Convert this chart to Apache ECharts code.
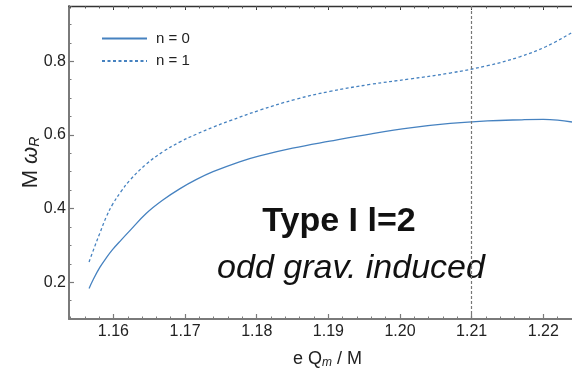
<!DOCTYPE html>
<html>
<head>
<meta charset="utf-8">
<script src="https://cdn.jsdelivr.net/npm/echarts@6/dist/echarts.min.js"></script>
<style>
  html, body { margin: 0; padding: 0; background: #fff; }
  #chart { width: 572px; height: 374px; }
</style>
</head>
<body>
<div id="chart"></div>
<script>
// Real part of the quasinormal frequency versus magnetic charge
const seriesNames = ['n = 0', 'n = 1'];

const xN0 = [1.1566, 1.1572, 1.1581, 1.1590, 1.1599, 1.1611, 1.1623, 1.1646, 1.1669, 1.1693, 1.1716, 1.1739, 1.1776, 1.1804, 1.1850, 1.1902, 1.1960, 1.2014, 1.2070, 1.2122, 1.2170, 1.2200, 1.2220, 1.2240];
const yN0 = [0.183, 0.208, 0.240, 0.266, 0.289, 0.315, 0.340, 0.387, 0.423, 0.454, 0.479, 0.500, 0.527, 0.543, 0.564, 0.583, 0.603, 0.619, 0.631, 0.638, 0.641, 0.642, 0.640, 0.635];

const xN1 = [1.1566, 1.1572, 1.1581, 1.1590, 1.1599, 1.1611, 1.1623, 1.1646, 1.1669, 1.1693, 1.1716, 1.1739, 1.1762, 1.1804, 1.1855, 1.1902, 1.1958, 1.2014, 1.2070, 1.2122, 1.2167, 1.2204, 1.2240];
const yN1 = [0.255, 0.287, 0.333, 0.377, 0.412, 0.447, 0.477, 0.521, 0.554, 0.581, 0.602, 0.621, 0.638, 0.667, 0.697, 0.718, 0.737, 0.752, 0.768, 0.788, 0.812, 0.840, 0.878];

// threshold marked by the vertical dashed line
const xThreshold = 1.2122;

// tick labels
const xTicks = [1.16, 1.17, 1.18, 1.19, 1.20, 1.21, 1.22];
const yTicks = [0.2, 0.4, 0.6, 0.8];

const xRange = [1.1538, 1.2240];
const yRange = [0.1, 0.95];

// minor tick positions (every 0.002 on x, every 0.05 on y)
const xMinor = [];
for (let k = 577; k <= 612; k++) xMinor.push(+(k * 0.002).toFixed(3));
const yMinor = [];
for (let k = 2; k <= 19; k++) yMinor.push(+(k * 0.05).toFixed(2));

const blue = '#4682c0';
const frameGray = '#7a7a7a';
const font = '"Liberation Sans", Arial, sans-serif';

const chart = echarts.init(document.getElementById('chart'), null, { renderer: 'canvas' });

const baseX = { type: 'value', min: xRange[0], max: xRange[1], splitLine: { show: false } };
const baseY = { type: 'value', min: yRange[0], max: yRange[1], splitLine: { show: false } };

chart.setOption({
  animation: false,
  backgroundColor: '#fff',
  grid: { left: 69, right: 0, top: 6, bottom: 47.5, containLabel: false },
  legend: {
    orient: 'vertical',
    left: 96, top: 26,
    itemWidth: 45, itemHeight: 14, itemGap: 7.5,
    data: seriesNames,
    itemStyle: { opacity: 0 },
    textStyle: { fontFamily: font, fontSize: 15, color: '#222', padding: [0, 0, 0, 4] }
  },
  xAxis: [
    Object.assign({}, baseX, {
      position: 'bottom',
      name: '{a|e Q}{s|m}{a| / M}',
      nameLocation: 'middle', nameGap: 30, nameMoveOverlap: false,
      nameTextStyle: {
        padding: [0, 0, 0, 14],
        rich: {
          a: { fontFamily: font, fontSize: 18, color: '#222' },
          s: { fontFamily: font, fontSize: 12, fontStyle: 'italic', color: '#222', verticalAlign: 'bottom', padding: [8, 0, 0, 0] }
        }
      },
      axisLine: { show: true, onZero: false, lineStyle: { color: frameGray, width: 2 } },
      axisTick: { show: true, inside: true, length: 5, customValues: xTicks, lineStyle: { color: frameGray, width: 1.2 } },
      axisLabel: {
        customValues: xTicks, margin: 5,
        fontFamily: font, fontSize: 16, color: '#222',
        formatter: v => v.toFixed(2)
      }
    }),
    Object.assign({}, baseX, {
      position: 'bottom',
      axisLine: { show: false },
      axisTick: { show: true, inside: true, length: 2.5, customValues: xMinor, lineStyle: { color: frameGray, width: 1 } },
      axisLabel: { show: false }
    }),
    Object.assign({}, baseX, {
      position: 'top',
      axisLine: { show: true, onZero: false, lineStyle: { color: '#333', width: 1.3 } },
      axisTick: { show: true, inside: true, length: 4, customValues: xTicks, lineStyle: { color: '#333', width: 1 } },
      axisLabel: { show: false }
    }),
    Object.assign({}, baseX, {
      position: 'top',
      axisLine: { show: false },
      axisTick: { show: true, inside: true, length: 2.5, customValues: xMinor, lineStyle: { color: '#555', width: 1 } },
      axisLabel: { show: false }
    })
  ],
  yAxis: [
    Object.assign({}, baseY, {
      position: 'left',
      name: '{a|M }{w|ω}{s|R}',
      nameLocation: 'middle', nameGap: 27, nameRotate: 90, nameMoveOverlap: false,
      nameTextStyle: {
        rich: {
          a: { fontFamily: font, fontSize: 22, color: '#222' },
          w: { fontFamily: font, fontSize: 22, fontStyle: 'italic', color: '#222' },
          s: { fontFamily: font, fontSize: 14, fontStyle: 'italic', color: '#222', verticalAlign: 'bottom', padding: [9, 0, 0, 0] }
        }
      },
      axisLine: { show: true, onZero: false, lineStyle: { color: frameGray, width: 2 } },
      axisTick: { show: true, inside: true, length: 5, customValues: yTicks, lineStyle: { color: frameGray, width: 1.2 } },
      axisLabel: {
        customValues: yTicks, margin: 3,
        fontFamily: font, fontSize: 16, color: '#222',
        formatter: v => v.toFixed(1)
      }
    }),
    Object.assign({}, baseY, {
      position: 'left',
      axisLine: { show: false },
      axisTick: { show: true, inside: true, length: 2.5, customValues: yMinor, lineStyle: { color: frameGray, width: 1 } },
      axisLabel: { show: false }
    })
  ],
  series: [
    {
      name: seriesNames[0], type: 'line', xAxisIndex: 0, yAxisIndex: 0,
      data: xN0.map((x, i) => [x, yN0[i]]),
      showSymbol: false, symbol: 'none', smooth: 0.4,
      lineStyle: { color: blue, width: 1.3 },
      itemStyle: { color: blue },
      markLine: {
        silent: true, symbol: 'none', label: { show: false },
        lineStyle: { color: '#777', width: 1.2, type: [3, 2] },
        data: [{ xAxis: xThreshold }]
      }
    },
    {
      name: seriesNames[1], type: 'line', xAxisIndex: 0, yAxisIndex: 0,
      data: xN1.map((x, i) => [x, yN1[i]]),
      showSymbol: false, symbol: 'none', smooth: 0.4,
      lineStyle: { color: blue, width: 1.3, type: [3, 2.5] },
      itemStyle: { color: blue }
    }
  ],
  graphic: [
    {
      type: 'text', x: 339, y: 205,
      style: { text: 'Type I l=2', fontFamily: font, fontSize: 34, fontWeight: 'bold', fill: '#111', textAlign: 'center', textVerticalAlign: 'top' }
    },
    {
      type: 'text', x: 351, y: 252,
      style: { text: 'odd grav. induced', fontFamily: font, fontSize: 34, fontStyle: 'italic', fill: '#111', textAlign: 'center', textVerticalAlign: 'top' }
    }
  ]
});
</script>
</body>
</html>
